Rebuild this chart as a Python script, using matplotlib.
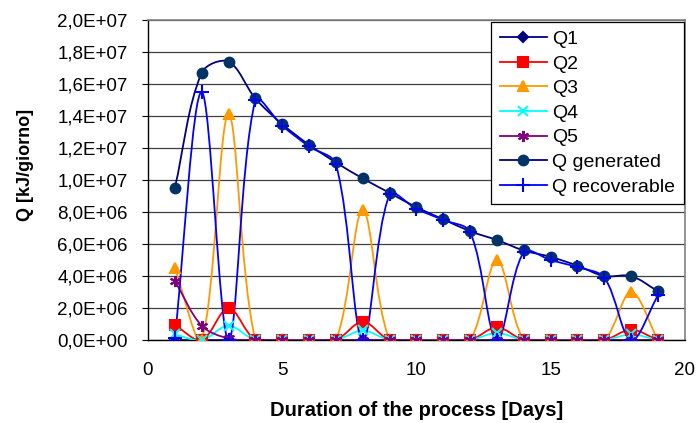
import numpy as np
import matplotlib
matplotlib.use('Agg')
from matplotlib import pyplot as plt
from matplotlib.path import Path
from matplotlib.patches import PathPatch
from matplotlib.lines import Line2D
from matplotlib.ticker import FuncFormatter

plt.rcParams['font.family'] = ['Liberation Sans', 'DejaVu Sans']

# Dati
days = [1, 2, 3, 4, 5, 6, 7, 8, 9, 10, 11, 12, 13, 14, 15, 16, 17, 18, 19]
q1 = [0.0] * 19
q2 = [0.95e6, 0, 2.0e6, 0, 0, 0, 0, 1.15e6, 0, 0, 0, 0, 0.8e6, 0, 0, 0, 0, 0.65e6, 0]
q3 = [4.5e6, 0, 14.1e6, 0, 0, 0, 0, 8.1e6, 0, 0, 0, 0, 5.0e6, 0, 0, 0, 0, 3.0e6, 0]
q4 = [0.35e6, 0, 0.9e6, 0, 0, 0, 0, 0.6e6, 0, 0, 0, 0, 0.45e6, 0, 0, 0, 0, 0.35e6, 0]
q5 = [3.7e6, 0.9e6, 0.1e6, 0, 0, 0, 0, 0, 0, 0, 0, 0, 0, 0, 0, 0, 0, 0, 0]
q_gen = [9.5e6, 16.7e6, 17.4e6, 15.1e6, 13.5e6, 12.2e6, 11.1e6, 10.1e6, 9.2e6, 8.3e6,
         7.55e6, 6.8e6, 6.25e6, 5.6e6, 5.2e6, 4.65e6, 4.0e6, 4.0e6, 3.05e6]
q_rec = [0.1e6, 15.5e6, 0, 15.0e6, 13.4e6, 12.1e6, 11.0e6, 0, 9.1e6, 8.2e6,
         7.5e6, 6.75e6, 0, 5.5e6, 5.0e6, 4.55e6, 3.9e6, 0, 2.8e6]

series = [
    ('Q1', q1, '#000080', 'D', '#000080', 5),
    ('Q2', q2, '#FF0000', 's', '#FF0000', 6.5),
    ('Q3', q3, '#FF9900', '^', '#FF9900', 7.5),
    ('Q4', q4, '#00FFFF', 'x', '#00FFFF', 7),
    ('Q5', q5, '#800080', (6, 2, 0), '#800080', 8),
    ('Q generated', q_gen, '#000080', 'o', '#003366', 7),
    ('Q recoverable', q_rec, '#0000FF', '+', '#0000FF', 10),
]

fig = plt.figure(figsize=(6.96, 4.23), dpi=100)
ax = fig.add_axes([0.2126, 0.196, 0.7714, 0.7567])
ax.set_xlim(0, 20)
ax.set_ylim(0, 2.0e7)


def smooth_path(xs, ys):
    # curva smussata tipo Excel, calcolata in coordinate schermo
    pts = ax.transData.transform(np.column_stack([xs, ys]))
    n = len(pts)
    verts = [pts[0]]
    codes = [Path.MOVETO]
    for i in range(n - 1):
        p0 = pts[i - 1] if i > 0 else pts[i]
        p1 = pts[i]
        p2 = pts[i + 1]
        p3 = pts[i + 2] if i + 2 < n else pts[i + 1]
        d01 = np.linalg.norm(p1 - p0)
        d12 = np.linalg.norm(p2 - p1)
        d23 = np.linalg.norm(p3 - p2)
        f1 = d12 / (d01 + d12) / 3 if d01 + d12 > 0 else 0
        f2 = d12 / (d12 + d23) / 3 if d12 + d23 > 0 else 0
        c1 = p1 + (p2 - p0) * f1
        c2 = p2 - (p3 - p1) * f2
        verts += [c1, c2, p2]
        codes += [Path.CURVE4] * 3
    verts = ax.transData.inverted().transform(np.array(verts))
    return Path(verts, codes)


handles = []
for name, vals, lc, mk, mc, ms in series:
    ax.add_patch(PathPatch(smooth_path(days, vals), facecolor='none',
                           edgecolor=lc, lw=1.3, zorder=3))
    ax.plot(days, vals, ls='none', marker=mk, ms=ms, color=mc,
            markeredgecolor=mc, mew=1.5, zorder=4)
    handles.append(Line2D([], [], color=lc, lw=1.3, marker=mk, ms=ms,
                          markerfacecolor=mc, markeredgecolor=mc, mew=1.5))

# Griglia e assi
ax.set_yticks(np.arange(0, 2.01e7, 2e6))
ax.set_xticks([0, 5, 10, 15, 20])
ax.yaxis.grid(True, color='#404040', lw=0.9)
ax.set_axisbelow(True)
ax.yaxis.set_major_formatter(FuncFormatter(lambda v, p: ('%.1E' % v).replace('.', ',')))
ax.tick_params(axis='y', direction='out', length=4.5, width=0.8, pad=10, labelsize=13.5)
ax.tick_params(axis='x', length=0, pad=16, labelsize=13.5)
for s in ['left', 'bottom']:
    ax.spines[s].set_color('black')
    ax.spines[s].set_linewidth(1.0)
for s in ['top', 'right']:
    ax.spines[s].set_color('#808080')
    ax.spines[s].set_linewidth(1.2)

ax.set_xlabel('Duration of the process [Days]', fontsize=14.5, fontweight='bold')
ax.set_ylabel('Q [kJ/giorno]', fontsize=13, fontweight='bold')
ax.xaxis.set_label_coords(0.5, -0.19)
ax.yaxis.set_label_coords(-0.212, 0.547)

leg = ax.legend(handles, [s[0] for s in series], loc='upper right',
                bbox_to_anchor=(0.9975, 0.995), fontsize=14, frameon=True,
                fancybox=False, edgecolor='black', framealpha=1,
                handlelength=2.4, handletextpad=0.26, labelspacing=0.36,
                borderpad=0.45, borderaxespad=0)
leg.get_frame().set_linewidth(0.9)
leg.set_zorder(10)

fig.savefig('out.png', dpi=100)
